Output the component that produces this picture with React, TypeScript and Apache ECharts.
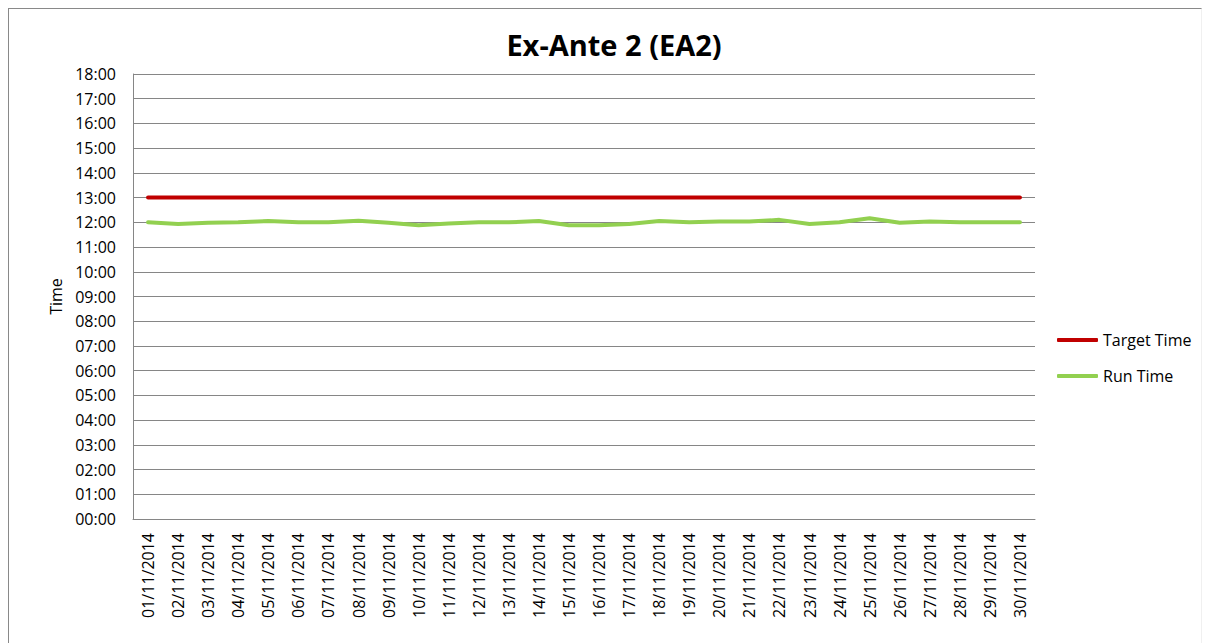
import React, { useEffect, useRef } from "react";
import * as echarts from "echarts";

const chartTitle = "Ex-Ante 2 (EA2)";
const dates = [
  "01/11/2014", "02/11/2014", "03/11/2014", "04/11/2014", "05/11/2014",
  "06/11/2014", "07/11/2014", "08/11/2014", "09/11/2014", "10/11/2014",
  "11/11/2014", "12/11/2014", "13/11/2014", "14/11/2014", "15/11/2014",
  "16/11/2014", "17/11/2014", "18/11/2014", "19/11/2014", "20/11/2014",
  "21/11/2014", "22/11/2014", "23/11/2014", "24/11/2014", "25/11/2014",
  "26/11/2014", "27/11/2014", "28/11/2014", "29/11/2014", "30/11/2014",
];
const targetTime = [
  "13:00", "13:00", "13:00", "13:00", "13:00", "13:00", "13:00", "13:00", "13:00", "13:00",
  "13:00", "13:00", "13:00", "13:00", "13:00", "13:00", "13:00", "13:00", "13:00", "13:00",
  "13:00", "13:00", "13:00", "13:00", "13:00", "13:00", "13:00", "13:00", "13:00", "13:00",
];
const runTime = [
  "12:00", "11:56", "11:59", "12:00", "12:03", "12:00", "12:00", "12:04", "11:59", "11:53",
  "11:57", "12:00", "12:00", "12:03", "11:53", "11:53", "11:56", "12:03", "12:00", "12:02",
  "12:02", "12:06", "11:56", "12:00", "12:10", "11:59", "12:02", "12:00", "12:00", "12:00",
];
const yMin = 0;
const yMax = 18;
const yInterval = 1;

const toHours = (s: string) => {
  const [h, m] = s.split(":").map(Number);
  return h + m / 60;
};
const fmtHour = (v: number) => {
  const h = Math.floor(v);
  return (h < 10 ? "0" : "") + h + ":00";
};

const FONT = "'Open Sans', 'Noto Sans', sans-serif";
const GRID_COLOR = "#868686";

export default function App() {
  const ref = useRef<HTMLDivElement>(null);
  useEffect(() => {
    if (!ref.current) return;
    const chart = echarts.init(ref.current, undefined, { renderer: "svg" });
    chart.setOption({
      animation: false,
      textStyle: { fontFamily: FONT },
      title: {
        text: chartTitle,
        left: 600,
        top: 16,
        textAlign: "center",
        textStyle: { fontFamily: FONT, fontSize: 29, fontWeight: "bold", color: "#000" },
      },
      legend: {
        orient: "vertical",
        left: 1043,
        top: 318,
        itemGap: 20,
        icon: "roundRect",
        itemWidth: 41,
        itemHeight: 4,
        textStyle: { fontFamily: FONT, fontSize: 16, color: "#000" },
        data: ["Target Time", "Run Time"],
      },
      grid: { left: 124, top: 65, right: 170, bottom: 124, containLabel: false },
      xAxis: {
        type: "category",
        data: dates,
        boundaryGap: true,
        axisLine: { show: true, lineStyle: { color: GRID_COLOR, width: 1 } },
        axisTick: { show: false },
        axisLabel: {
          rotate: 90,
          interval: 0,
          margin: 14,
          fontFamily: FONT,
          fontSize: 16,
          color: "#000",
        },
      },
      yAxis: {
        type: "value",
        min: yMin,
        max: yMax,
        interval: yInterval,
        name: "Time",
        nameLocation: "middle",
        nameGap: 69,
        nameRotate: 90,
        nameTextStyle: { fontFamily: FONT, fontSize: 16, color: "#000" },
        axisLine: { show: true, lineStyle: { color: GRID_COLOR, width: 1 } },
        axisTick: { show: false },
        splitLine: { show: true, lineStyle: { color: GRID_COLOR, width: 1 } },
        axisLabel: {
          margin: 17,
          fontFamily: FONT,
          fontSize: 16,
          color: "#000",
          formatter: (v: number) => fmtHour(v),
        },
      },
      series: [
        {
          name: "Target Time",
          type: "line",
          data: targetTime.map(toHours),
          showSymbol: false,
          symbol: "none",
          lineStyle: { color: "#C00000", width: 4, cap: "round" },
          itemStyle: { color: "#C00000" },
        },
        {
          name: "Run Time",
          type: "line",
          data: runTime.map(toHours),
          showSymbol: false,
          symbol: "none",
          lineStyle: { color: "#92D050", width: 4, cap: "round", join: "round" },
          itemStyle: { color: "#92D050" },
        },
      ],
    });
    return () => chart.dispose();
  }, []);

  return (
    <div
      style={{
        position: "fixed",
        left: 8,
        top: 8,
        width: 1192,
        height: 635,
        borderTop: "1px solid #898989",
        borderLeft: "1px solid #898989",
        borderRight: "1px solid #f0f0f0",
        background: "#fff",
      }}
    >
      <div ref={ref} style={{ width: 1196, height: 634 }} />
    </div>
  );
}
